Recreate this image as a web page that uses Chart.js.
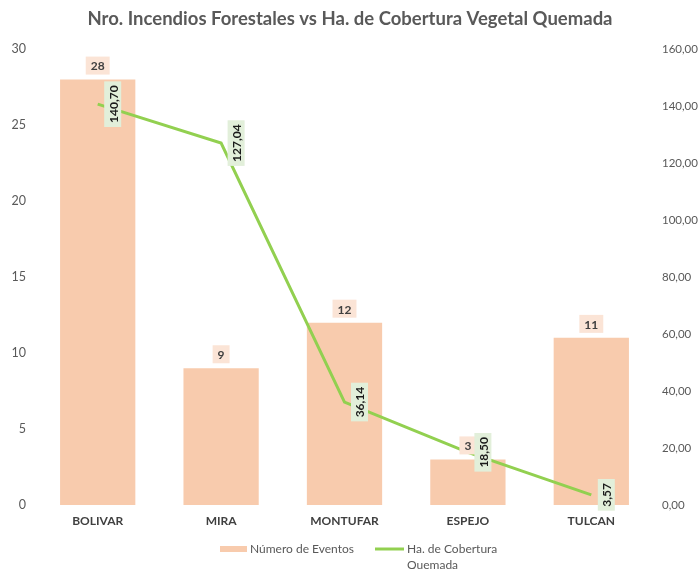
<!DOCTYPE html>
<html lang="es">
<head>
  <meta charset="UTF-8">
  <title>Incendios Forestales</title>
  <style>
    body { margin: 0; background: #ffffff; }
    #wrap { width: 700px; height: 569px; }
  </style>
</head>
<body>
  <div id="wrap"><canvas id="chart" width="700" height="569"></canvas></div>

  <script src="https://cdn.jsdelivr.net/npm/chart.js@4"></script>
  <script>
    const cantones = ["BOLIVAR", "MIRA", "MONTUFAR", "ESPEJO", "TULCAN"];
    const eventos = [28, 9, 12, 3, 11];
    const hectareas = [140.70, 127.04, 36.14, 18.50, 3.57];

    const FONT = "Lato";
    const fmt = v => v.toFixed(2).replace(".", ",");

    // etiquetas de valores sobre barras y linea
    const valueLabels = {
      id: "valueLabels",
      afterDatasetsDraw(chart) {
        const ctx = chart.ctx;
        ctx.save();
        ctx.font = "bold 12px " + FONT;
        ctx.textAlign = "center";
        ctx.textBaseline = "middle";

        chart.getDatasetMeta(1).data.forEach((bar, i) => {
          const txt = String(eventos[i]);
          const w = ctx.measureText(txt).width + 10, h = 18;
          const y = bar.y - 14;
          ctx.fillStyle = "#FBE4D6";
          ctx.fillRect(bar.x - w / 2, y - h / 2, w, h);
          ctx.fillStyle = "#404040";
          ctx.fillText(txt, bar.x, y + 1);
        });

        chart.getDatasetMeta(0).data.forEach((pt, i) => {
          const txt = fmt(hectareas[i]);
          const w = ctx.measureText(txt).width + 8, h = 17;
          ctx.save();
          ctx.translate(pt.x + 15, pt.y);
          ctx.rotate(-Math.PI / 2);
          ctx.fillStyle = "#E2EFDA";
          ctx.fillRect(-w / 2, -h / 2, w, h);
          ctx.fillStyle = "#1a1a1a";
          ctx.fillText(txt, 0, 1);
          ctx.restore();
        });
        ctx.restore();
      },
      afterDraw(chart) {
        // leyenda inferior
        const ctx = chart.ctx;
        ctx.save();
        ctx.font = "12px " + FONT;
        ctx.textBaseline = "middle";
        ctx.fillStyle = "#F8CBAD";
        ctx.fillRect(220, 546, 27, 6);
        ctx.fillStyle = "#595959";
        ctx.fillText("Número de Eventos", 250, 549);
        ctx.strokeStyle = "#92D050";
        ctx.lineWidth = 3;
        ctx.beginPath();
        ctx.moveTo(375, 549);
        ctx.lineTo(404, 549);
        ctx.stroke();
        ctx.fillText("Ha. de Cobertura", 407, 549);
        ctx.fillText("Quemada", 407, 565);
        ctx.restore();
      }
    };

    new Chart(document.getElementById("chart"), {
      data: {
        labels: cantones,
        datasets: [
          {
            type: "line",
            label: "Ha. de Cobertura Quemada",
            data: hectareas,
            yAxisID: "y2",
            borderColor: "#92D050",
            borderWidth: 3,
            pointRadius: 0,
            tension: 0,
            order: 1
          },
          {
            type: "bar",
            label: "Número de Eventos",
            data: eventos,
            yAxisID: "y",
            backgroundColor: "#F8CBAD",
            categoryPercentage: 1,
            barPercentage: 0.61,
            order: 2
          }
        ]
      },
      options: {
        responsive: false,
        animation: false,
        layout: { padding: 0 },
        plugins: {
          legend: { display: false },
          tooltip: { enabled: false },
          title: {
            display: true,
            text: "Nro. Incendios Forestales vs Ha. de Cobertura Vegetal Quemada",
            color: "#595959",
            font: { family: FONT, size: 18.5, weight: "bold" },
            padding: { top: 8, bottom: 19 }
          }
        },
        scales: {
          x: {
            grid: { display: false, drawTicks: false },
            border: { display: false },
            afterFit: s => { s.height = 64; },
            ticks: {
              color: "#404040",
              font: { family: FONT, size: 12, weight: "bold" },
              padding: 9
            }
          },
          y: {
            position: "left",
            min: 0, max: 30,
            grid: { display: false, drawTicks: false },
            border: { display: false },
            afterFit: s => { s.width = 36; },
            ticks: {
              stepSize: 5,
              color: "#595959",
              font: { family: FONT, size: 12.5 },
              padding: 10
            }
          },
          y2: {
            position: "right",
            min: 0, max: 160,
            grid: { display: false, drawTicks: false },
            border: { display: false },
            afterFit: s => { s.width = 47; },
            ticks: {
              stepSize: 20,
              color: "#595959",
              font: { family: FONT, size: 11.5 },
              padding: 9,
              callback: v => fmt(v)
            }
          }
        }
      },
      plugins: [valueLabels]
    });
  </script>
</body>
</html>
